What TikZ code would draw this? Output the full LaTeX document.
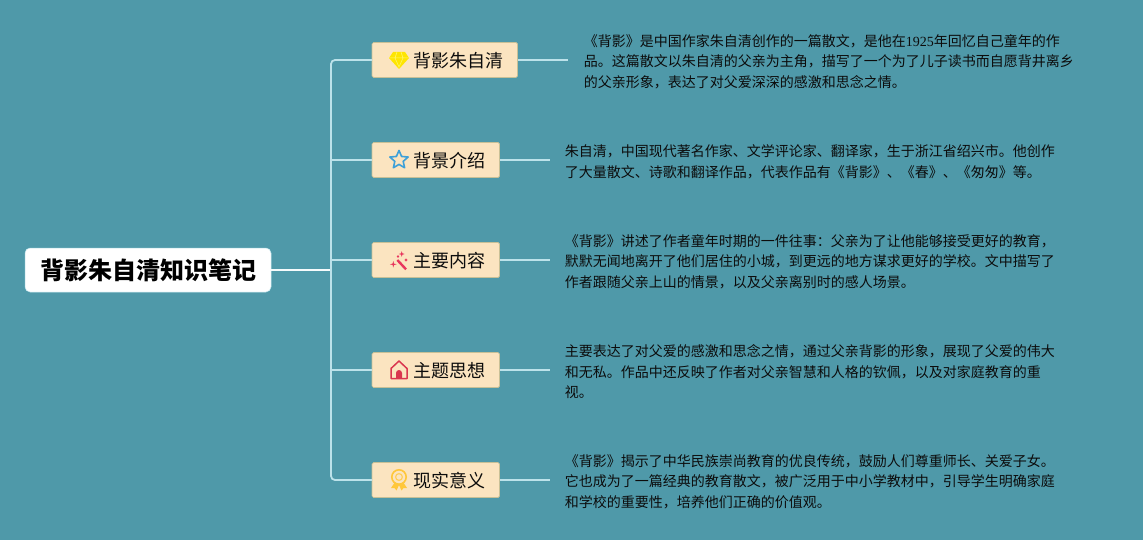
\documentclass[tikz,border=0pt]{standalone}
\usepackage{fontspec}
\usepackage{xcolor}
\usetikzlibrary{positioning,calc}
\newfontfamily\cjkfont{Noto Sans CJK SC}
\newfontfamily\digitfont{Liberation Serif}

\definecolor{pagebg}{HTML}{4F99A9}
\definecolor{boxfill}{HTML}{FBE4C0}
\definecolor{boxedge}{HTML}{C8C096}
\definecolor{linkcol}{HTML}{BCE2EA}
\definecolor{inkcol}{HTML}{0C0C0C}
\definecolor{wandcol}{HTML}{E8365D}
\definecolor{medalcol}{HTML}{FFC73A}
\definecolor{starcol}{HTML}{3EA0D8}
\definecolor{housecol}{HTML}{D9364F}

\tikzset{
  gem/.pic={
    \fill[yellow!88!orange] (-6,8) -- (6,8) -- (10,2) -- (0,-9) -- (-10,2) -- cycle;
    \draw[yellow!55, line width=.5pt] (-10,2) -- (10,2) (-4,2) -- (0,-7) -- (4,2) (-4,2) -- (-2,8) (4,2) -- (2,8);
  },
  starry/.pic={
    \draw[starcol, line width=1.6pt, line join=round]
      (90:9.6) -- (126:4.4) -- (162:9.6) -- (198:4.4) -- (234:9.6) -- (270:4.4) -- (306:9.6) -- (342:4.4) -- (18:9.6) -- (54:4.4) -- cycle;
  },
  wand/.pic={
    \draw[wandcol, line width=2.4pt] (-1.7,0) -- (7,-9.3);
    \foreach \sx/\sy/\sr in {-5.7/-4.3/3.4, 2.7/6/2.8, 7/0/1.6, -1/3.5/1.2} {
      \fill[wandcol] (\sx+\sr,\sy) -- (\sx+.7,\sy+.7) -- (\sx,\sy+\sr) -- (\sx-.7,\sy+.7) -- (\sx-\sr,\sy) -- (\sx-.7,\sy-.7) -- (\sx,\sy-\sr) -- (\sx+.7,\sy-.7) -- cycle;
    }
  },
  house/.pic={
    \draw[housecol, line width=1.5pt, line join=round] (-8,-8.5) -- (-8,1.5) -- (0,9) -- (8,1.5) -- (8,-8.5) -- cycle;
    \fill[housecol] (-3,-8.5) -- (-3,-3) arc (180:0:3) -- (3,-8.5) -- cycle;
  },
  medal/.pic={
    \fill[medalcol] (-4,-2) -- (-8,-8) -- (-4.5,-8) -- (-2.5,-10.5) -- (0,-5) -- (2.5,-10.5) -- (4.5,-8) -- (8,-8) -- (4,-2) -- cycle;
    \fill[boxfill] (0,3) circle (7.5);
    \draw[medalcol, line width=1.6pt] (0,3) circle (7.2);
    \draw[medalcol!75!boxfill, line width=1.2pt] (0,3) circle (3.4);
  },
}

\begin{document}
\begin{tikzpicture}[x=1pt, y=1pt,
  rootnode/.style = {rectangle, rounded corners=5pt, draw=linkcol, line width=.5pt, fill=white, outer sep=0pt, minimum width=246pt, minimum height=44pt, inner xsep=0pt, inner ysep=0pt, text=black, font=\cjkfont\bfseries\fontsize{24pt}{28pt}\selectfont},
  topic/.style = {rectangle, rounded corners=1.5pt, draw=boxedge, line width=.7pt, fill=boxfill, outer sep=0pt, minimum height=35pt, inner xsep=14pt, inner ysep=0pt, text height=17pt, text depth=2.2pt, text=inkcol, font=\cjkfont\fontsize{18pt}{22pt}\selectfont},
  note/.style = {align=left, outer sep=0pt, inner ysep=0pt, inner xsep=15pt, text=inkcol, font=\cjkfont\fontsize{14pt}{20.5pt}\selectfont},
  link/.style = {draw=linkcol, line width=1.8pt},
]

\useasboundingbox (0,0) rectangle (1143,-540);
\fill[pagebg] (0,0) rectangle (1143,-540);

\node[rootnode] (root) at (148,-270) {背影朱自清知识笔记};

\node[topic] (b3) [right=101pt of root, yshift=10pt] {\hspace{27.5pt}主要内容};
\node[topic] (b2) [above=65pt of b3.north west, anchor=south west] {\hspace{27.5pt}背景介绍};
\node[topic] (b1) [above=65pt of b2.north west, anchor=south west] {\hspace{27.5pt}背影朱自清};
\node[topic] (b4) [below=75pt of b3.south west, anchor=north west] {\hspace{27.5pt}主题思想};
\node[topic] (b5) [below=75pt of b4.south west, anchor=north west] {\hspace{27.5pt}现实意义};

\node[note, inner xsep=16pt] (t1) [right=50.3pt of b1.east, yshift=-1.7pt] {《背影》是中国作家朱自清创作的一篇散文，是他在{\digitfont 1925}年回忆自己童年的作\\品。这篇散文以朱自清的父亲为主角，描写了一个为了儿子读书而自愿背井离乡\\的父亲形象，表达了对父爱深深的感激和思念之情。};
\node[note] (t2) [right=50.3pt of b2.east, yshift=-1.7pt] {朱自清，中国现代著名作家、文学评论家、翻译家，生于浙江省绍兴市。他创作\\了大量散文、诗歌和翻译作品，代表作品有《背影》、《春》、《匆匆》等。};
\node[note] (t3) [right=50.3pt of b3.east, yshift=-1.7pt] {《背影》讲述了作者童年时期的一件往事：父亲为了让他能够接受更好的教育，\\默默无闻地离开了他们居住的小城，到更远的地方谋求更好的学校。文中描写了\\作者跟随父亲上山的情景，以及父亲离别时的感人场景。};
\node[note] (t4) [right=50.3pt of b4.east, yshift=-1.7pt] {主要表达了对父爱的感激和思念之情，通过父亲背影的形象，展现了父爱的伟大\\和无私。作品中还反映了作者对父亲智慧和人格的钦佩，以及对家庭教育的重\\视。};
\node[note] (t5) [right=50.3pt of b5.east, yshift=-1.7pt] {《背影》揭示了中华民族崇尚教育的优良传统，鼓励人们尊重师长、关爱子女。\\它也成为了一篇经典的教育散文，被广泛用于中小学教材中，引导学生明确家庭\\和学校的重要性，培养他们正确的价值观。};

\coordinate (trunk) at ([xshift=60pt]root.east);

\draw[link, line width=2pt, draw=white!85!linkcol] (root.east) -- (trunk);
\draw[link, rounded corners=4pt] (trunk) |- (b1.west);
\draw[link, rounded corners=4pt] (trunk) |- (b5.west);
\draw[link] (trunk |- b2.west) -- (b2.west);
\draw[link] (trunk |- b3.west) -- (b3.west);
\draw[link] (trunk |- b4.west) -- (b4.west);

\foreach \i in {1,...,5} {
  \draw[link] (b\i.east) -- (b\i.east -| t\i.west);
}

\pic at ([xshift=27pt]b1.west) {gem};
\pic at ([xshift=27pt]b2.west) {starry};
\pic at ([xshift=27pt]b3.west) {wand};
\pic at ([xshift=27pt]b4.west) {house};
\pic at ([xshift=27pt]b5.west) {medal};
\end{tikzpicture}
\end{document}
